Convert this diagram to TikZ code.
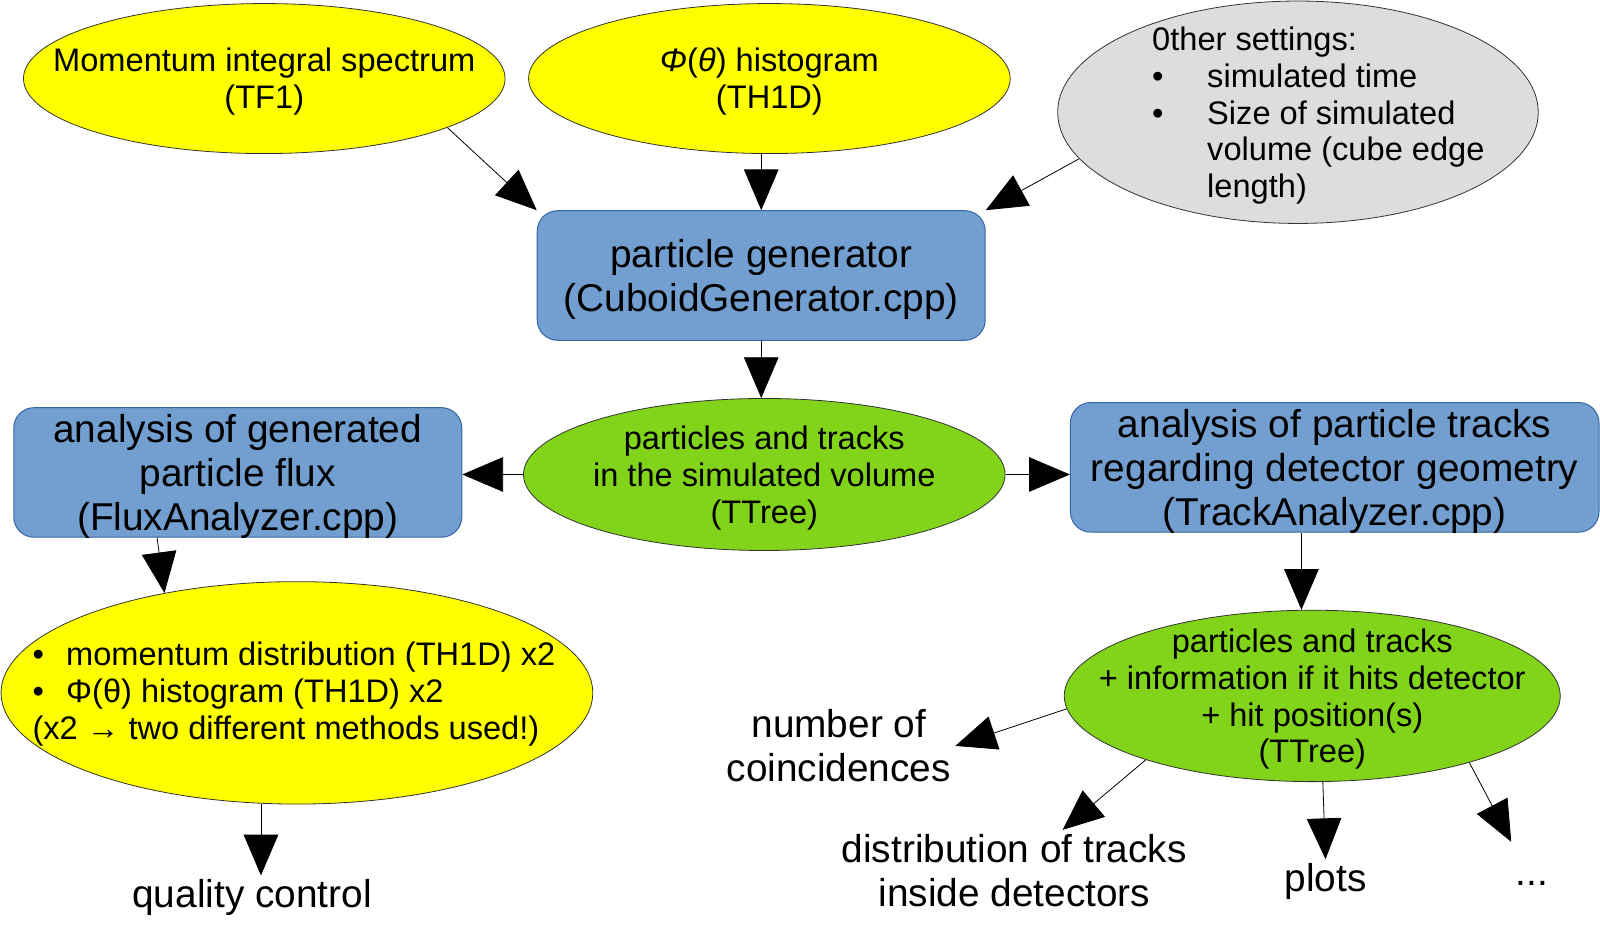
\documentclass[tikz,border=0pt]{standalone}
\usepackage{fontspec}
\setmainfont{Liberation Sans}
\usetikzlibrary{shapes.geometric,arrows.meta,positioning}
\definecolor{yel}{HTML}{FFFF00}
\definecolor{grn}{HTML}{81D41A}
\definecolor{gry}{HTML}{DDDDDD}
\definecolor{boxblue}{HTML}{729FCF}
\definecolor{boxedge}{HTML}{3465A4}
\tikzset{
    oval/.style={ellipse,draw=black!80,line width=0.4pt,inner sep=0pt},
    prog/.style={rectangle,rounded corners=10.2pt,draw=boxedge,fill=boxblue,line width=0.5pt,
        minimum width=224pt,minimum height=64.8pt,align=center,text depth=0pt,
        font=\fontsize{19.4}{21.9}\selectfont},
    txt/.style={align=center,text depth=0pt,font=\fontsize{16.3}{18.4}\selectfont},
    lbl/.style={align=center,inner sep=2pt,font=\fontsize{19.4}{21.9}\selectfont},
    arr/.style={-{Triangle[length=20.4pt,width=17.3pt]},line width=0.4pt}
}
\begin{document}
\begin{tikzpicture}[x=0.5102pt,y=-0.5102pt]
    \useasboundingbox (0,0) rectangle (1568,915.3);
    % inputs
    \node[oval,fill=yel,minimum width=240.8pt,minimum height=75pt,
        label={[txt]center:{Momentum integral spectrum\\(TF1)}}] (mom) at (259,77) {};
    \node[oval,fill=yel,minimum width=240.8pt,minimum height=75pt,
        label={[txt]center:{\textit{Φ}(\textit{θ}) histogram\\(TH1D)}}] (phi) at (754,77) {};
    \node[oval,fill=gry,minimum width=240.3pt,minimum height=111.2pt,
        label={[txt,align=left,xshift=10.2pt]center:{0ther settings:\\
            \makebox[27.5pt][l]{•}simulated time\\
            \makebox[27.5pt][l]{•}Size of simulated\\
            \hspace*{27.5pt}volume (cube edge\\
            \hspace*{27.5pt}length)}}] (other) at (1272,110) {};
    % generator and output tree
    \node[prog] (gen) at (746,270) {particle generator\\(CuboidGenerator.cpp)};
    \node[oval,fill=grn,minimum width=240.8pt,minimum height=76pt,
        label={[txt]center:{particles and tracks\\in the simulated volume\\(TTree)}}] (tree) at (749,465) {};
    % analyzers
    \node[prog] (flux) at (233,463) {analysis of generated\\particle flux\\(FluxAnalyzer.cpp)};
    \node[prog,minimum width=264.3pt] (track) at (1308,458) {analysis of particle tracks\\regarding detector geometry\\(TrackAnalyzer.cpp)};
    \node[oval,fill=yel,minimum width=295.9pt,minimum height=111.2pt,
        label={[txt,align=left,xshift=-1.5pt,yshift=1.2pt]center:{\makebox[16.8pt][l]{•}momentum distribution (TH1D) x2\\
            \makebox[16.8pt][l]{•}Φ(θ) histogram (TH1D) x2\\
            (x2 → two different methods used!)}}] (fluxres) at (291,679) {};
    \node[oval,fill=grn,minimum width=248pt,minimum height=85.7pt,
        label={[txt]center:{particles and tracks\\+ information if it hits detector\\+ hit position(s)\\(TTree)}}] (hits) at (1286,682) {};
    % results
    \node[lbl] (quality) at (247,880) {quality control};
    \node[lbl] (coinc) at (822,731) {number of\\coincidences};
    \node[lbl] (dist) at (994,853) {distribution of tracks\\inside detectors};
    \node[lbl] (plots) at (1299,864) {plots};
    \node[lbl] (dots) at (1501,866) {...};
    \coordinate (dotsend) at (1481,825);
    % connectors
    \draw[arr] (mom.-15) -- (gen.north west);
    \draw[arr] (gen.north |- phi.south) -- (gen.north);
    \draw[arr] (other.192) -- (gen.north east);
    \draw[arr] (gen.south) -- (gen.south |- tree.north);
    \draw[arr] (tree.west) -- (tree.west -| flux.east);
    \draw[arr] (tree.east) -- (tree.east -| track.west);
    \draw[arr] (flux.-141) -- (fluxres.143);
    \draw[arr] (fluxres.-108) -- (fluxres.-108 |- quality.north);
    \draw[arr] (track.-117) -- (track.-117 |- hits.north);
    \draw[arr] (hits.183) -- (coinc.east);
    \draw[arr] (hits.201) -- (dist.40);
    \draw[arr] (hits.-83) -- (plots.north);
    \draw[arr] (hits.-23) -- (dotsend);
\end{tikzpicture}
\end{document}
